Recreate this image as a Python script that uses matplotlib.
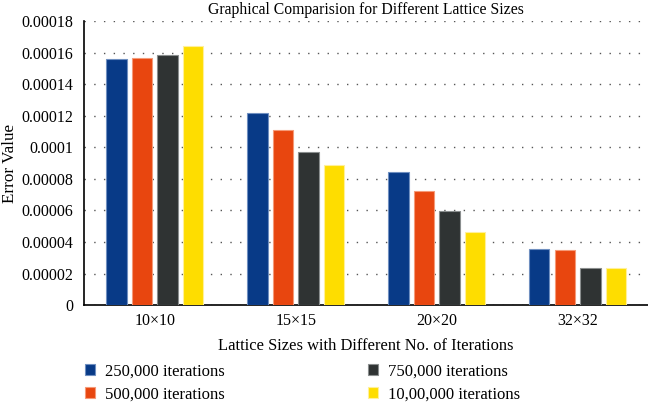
import matplotlib
matplotlib.use("Agg")
import matplotlib.pyplot as plt
import numpy as np

lattice_sizes = ["10×10", "15×15", "20×20", "32×32"]
series_labels = ["250,000 iterations", "500,000 iterations",
                 "750,000 iterations", "10,00,000 iterations"]
err_250k = [0.0001557, 0.0001215, 0.0000846, 0.0000354]
err_500k = [0.0001563, 0.0001109, 0.0000725, 0.0000352]
err_750k = [0.0001584, 0.0000968, 0.0000597, 0.0000234]
err_1m = [0.0001643, 0.0000888, 0.0000460, 0.0000238]
y_ticks = [0, 0.00002, 0.00004, 0.00006, 0.00008, 0.0001,
           0.00012, 0.00014, 0.00016, 0.00018]

colors = ["#083a87", "#e8460f", "#2f3333", "#fedd00"]
edges = ["#6f8fc0", "#f59a78", "#8a8e8e", "#fff09a"]

plt.rcParams["font.family"] = ["Liberation Serif", "DejaVu Serif"]
plt.rcParams["font.size"] = 11.5

fig, ax = plt.subplots(figsize=(6.48, 4.03), dpi=100)
fig.subplots_adjust(left=0.13, right=1.0, top=0.948, bottom=0.243)

x = np.arange(len(lattice_sizes))
step = 0.181
width = 0.145
all_series = [err_250k, err_500k, err_750k, err_1m]
for i, vals in enumerate(all_series):
    ax.bar(x + (i - 1.5) * step, vals, width, color=colors[i],
           edgecolor=edges[i], linewidth=0.8, label=series_labels[i],
           zorder=3)

ax.set_xlim(-0.5, len(lattice_sizes) - 0.5)
ax.set_ylim(0, 0.00018)
ax.set_yticks(y_ticks)
ax.set_yticklabels([f"{v:.5f}".rstrip("0").rstrip(".") for v in y_ticks])
ax.set_xticks(x)
ax.set_xticklabels(lattice_sizes)
ax.tick_params(length=0, pad=8)
ax.tick_params(axis="x", pad=6)

ax.yaxis.grid(True, linestyle=(0, (1, 6)), color="#555555", linewidth=1.0)
ax.set_axisbelow(True)
for s in ["top", "right"]:
    ax.spines[s].set_visible(False)
ax.spines["left"].set_linewidth(1.2)
ax.spines["bottom"].set_linewidth(1.2)

title = ax.set_title("Graphical Comparision for Different Lattice Sizes",
                     fontsize=11, pad=5)
xlab = ax.set_xlabel("Lattice Sizes with Different No. of Iterations",
                     labelpad=6)
ylab = ax.set_ylabel("Error Value", labelpad=2)

# scale the labels so they span about as far as in the source picture
renderer = fig.canvas.get_renderer()
title.set_fontsize(11 * 315.0 / title.get_window_extent(renderer).width)
xlab.set_fontsize(11.5 * 295.0 / xlab.get_window_extent(renderer).width)
ylab.set_fontsize(11.5 * 79.0 / ylab.get_window_extent(renderer).height)

fig.legend(ncol=2, loc="lower left", bbox_to_anchor=(0.108, -0.036),
           frameon=False, fontsize=12, handlelength=0.6, handleheight=0.6,
           handletextpad=0.6, columnspacing=8.6, labelspacing=0.42)

fig.savefig("out.png", dpi=100)
